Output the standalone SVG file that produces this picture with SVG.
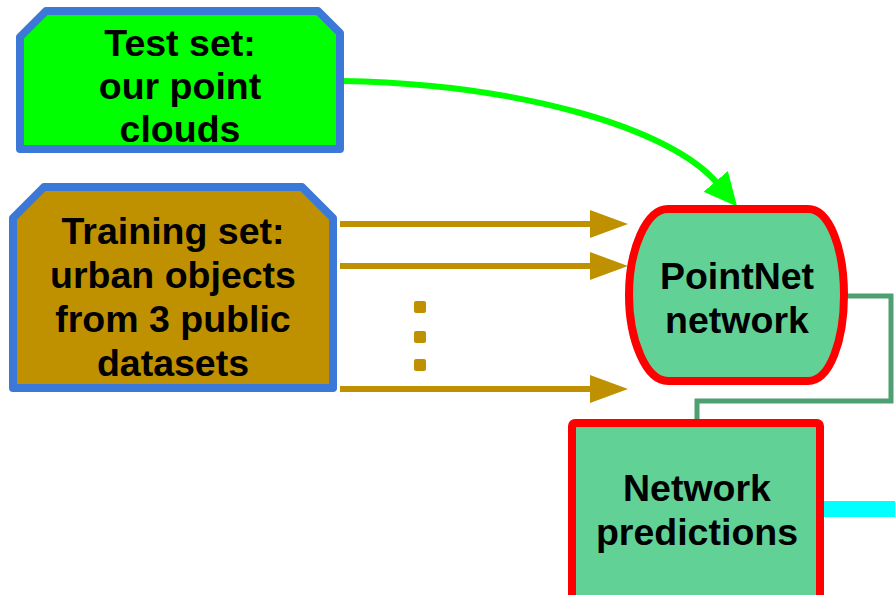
<svg xmlns="http://www.w3.org/2000/svg" width="895" height="595" viewBox="0 0 895 595">
  <style>
    .lbl { font-family: "Liberation Sans", Arial, sans-serif; font-weight: bold; font-size: 37.5px; fill: #000; text-anchor: middle; }
    .gold { stroke: #BF9000; stroke-width: 6; fill: none; }
  </style>
  <defs>
    <marker id="goldHead" markerUnits="userSpaceOnUse" markerWidth="40" markerHeight="30" refX="0" refY="14" orient="auto">
      <path d="M0,0 L38,14 L0,28 Z" fill="#BF9000"/>
    </marker>
    <marker id="greenHead" markerUnits="userSpaceOnUse" markerWidth="40" markerHeight="34" refX="2" refY="16" orient="auto">
      <path d="M0,0 L33,16 L0,32 Z" fill="#00FF00"/>
    </marker>
  </defs>

  <g id="connectors">
    <path d="M342,81 C520,84 670,128 717,183" fill="none" stroke="#00FF00" stroke-width="6" marker-end="url(#greenHead)"/>
    <line class="gold" x1="340" y1="224" x2="590" y2="224" marker-end="url(#goldHead)"/>
    <line class="gold" x1="340" y1="266" x2="590" y2="266" marker-end="url(#goldHead)"/>
    <line class="gold" x1="340" y1="389" x2="590" y2="389" marker-end="url(#goldHead)"/>
    <rect x="414" y="301" width="12" height="12" rx="2" fill="#BF9000"/>
    <rect x="414" y="331" width="12" height="12" rx="2" fill="#BF9000"/>
    <rect x="414" y="359" width="12" height="12" rx="2" fill="#BF9000"/>
    <path d="M843,296 H891 V401 H697 V420" fill="none" stroke="#4EA072" stroke-width="5"/>
    <line x1="820" y1="509" x2="895" y2="509" stroke="#00FFFF" stroke-width="16"/>
  </g>

  <g id="test-set">
    <path d="M20,37 L46,11 H318 L340,33 V149 H20 Z" fill="#00FF00" stroke="#3C78D8" stroke-width="8" stroke-linejoin="round"/>
    <text class="lbl" x="180" y="56">Test set:</text>
    <text class="lbl" x="180" y="99">our point</text>
    <text class="lbl" x="180" y="142">clouds</text>
  </g>

  <g id="training-set">
    <path d="M13,218 L44,187 H302 L333,218 V388 H13 Z" fill="#BF9000" stroke="#3C78D8" stroke-width="8" stroke-linejoin="round"/>
    <text class="lbl" x="173" y="244">Training set:</text>
    <text class="lbl" x="173" y="288">urban objects</text>
    <text class="lbl" x="173" y="332">from 3 public</text>
    <text class="lbl" x="173" y="376">datasets</text>
  </g>

  <g id="pointnet">
    <path d="M668,209 H808 C830,209 844,250 844,295 C844,340 830,381 808,381 H668 C646,381 629,340 629,295 C629,250 646,209 668,209 Z" fill="#62D196" stroke="#FF0000" stroke-width="8"/>
    <text class="lbl" x="737" y="289">PointNet</text>
    <text class="lbl" x="737" y="333">network</text>
  </g>

  <g id="predictions">
    <rect x="572" y="423" width="248" height="200" rx="3" fill="#62D196" stroke="#FF0000" stroke-width="8"/>
    <text class="lbl" x="697" y="501">Network</text>
    <text class="lbl" x="697" y="545">predictions</text>
  </g>
</svg>
